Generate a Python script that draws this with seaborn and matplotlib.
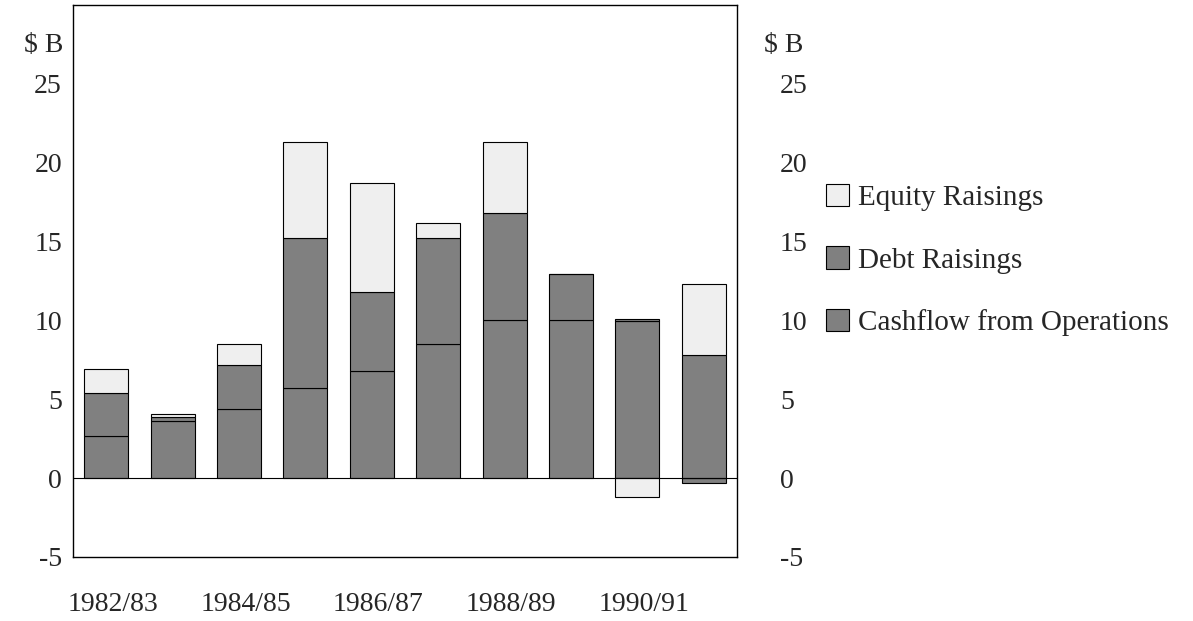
import numpy as np
import matplotlib
matplotlib.use("Agg")
import matplotlib.pyplot as plt
import seaborn as sns
from matplotlib.patches import Patch

# 데이터 (그림에서 읽은 값, $B)
years = ['1982/83', '1983/84', '1984/85', '1985/86', '1986/87',
         '1987/88', '1988/89', '1989/90', '1990/91', '1991/92']
cashflow = [2.7, 3.6, 4.4, 5.7, 6.8, 8.5, 10.0, 10.05, 9.95, -0.3]
debt = [2.7, 0.25, 2.8, 9.5, 5.0, 6.7, 6.8, 2.9, 0.15, 7.8]
equity = [1.5, 0.2, 1.3, 6.1, 6.9, 1.0, 4.5, 0.0, -1.2, 4.5]

sns.set_style("white")
plt.rcParams['font.family'] = ['Liberation Serif', 'DejaVu Serif']
FS = 20

fig = plt.figure(figsize=(11.93, 6.21), dpi=100)
ax = fig.add_axes([73 / 1193, 1 - 557 / 621, 664 / 1193, 552 / 621])

x = np.arange(len(years))
pos = np.zeros(len(years))
neg = np.zeros(len(years))
series = [(cashflow, '#808080'), (debt, '#808080'), (equity, '#efefef')]
for vals, col in series:
    vals = np.array(vals)
    bottom = np.where(vals >= 0, pos, neg)
    ax.bar(x, vals, bottom=bottom, width=0.66, color=col,
           edgecolor='black', linewidth=0.8, zorder=2)
    pos = pos + np.where(vals >= 0, vals, 0)
    neg = neg + np.where(vals < 0, vals, 0)

ax.axhline(0, color='black', linewidth=0.8, zorder=3)
ax.set_xlim(-0.5, 9.5)
ax.set_ylim(-5, 30)
yt = [-5, 0, 5, 10, 15, 20, 25]
ax.set_yticks(yt)
ax.set_yticklabels([str(v) for v in yt], fontsize=FS)
ax.set_xticks(x[::2] + 0.1)
ax.set_xticklabels(years[::2], fontsize=FS)
ax.tick_params(axis='x', length=0, pad=25)
ax.tick_params(axis='y', length=0, pad=8)
for s in ax.spines.values():
    s.set_color('black')
    s.set_linewidth(1)

ax2 = ax.twinx()
ax2.set_ylim(-5, 30)
ax2.set_yticks(yt)
ax2.set_yticklabels([str(v) for v in yt], fontsize=FS)
ax2.tick_params(axis='y', length=0, pad=31)
for s in ax2.spines.values():
    s.set_visible(False)

fig.text(24 / 1193, 1 - 46 / 621, '$ B', fontsize=FS, va='center')
fig.text(764 / 1193, 1 - 46 / 621, '$ B', fontsize=FS, va='center')

handles = [Patch(facecolor='#efefef', edgecolor='black', linewidth=0.8),
           Patch(facecolor='#808080', edgecolor='black', linewidth=0.8),
           Patch(facecolor='#808080', edgecolor='black', linewidth=0.8)]
labels = ['Equity Raisings', 'Debt Raisings', 'Cashflow from Operations']
fig.legend(handles, labels, loc='upper left', bbox_to_anchor=(826 / 1193, 1 - 184 / 621),
           frameon=False, fontsize=21, handlelength=0.8, handleheight=0.8,
           handletextpad=0.3, labelspacing=1.2, borderpad=0, borderaxespad=0)

fig.savefig('out.png', dpi=100)
